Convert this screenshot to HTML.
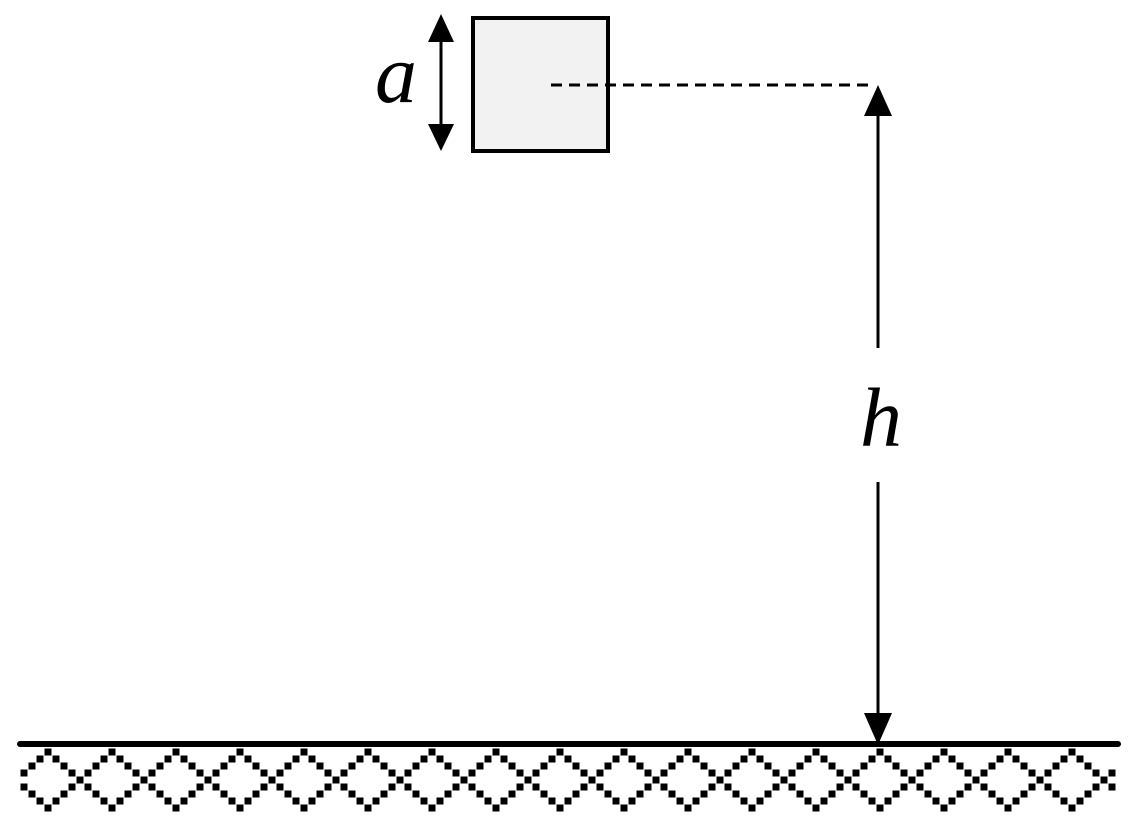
<!DOCTYPE html>
<html><head><style>body{margin:0;background:#fff}svg{display:block}text{font-family:"Liberation Serif","Times New Roman",serif;font-style:italic}</style></head><body>
<svg id="s" width="1135" height="826" xmlns="http://www.w3.org/2000/svg">
<rect x="473" y="18" width="135" height="133" fill="#f2f2f2" stroke="#000" stroke-width="4"/>
<line x1="441" y1="38" x2="441" y2="128" stroke="#000" stroke-width="3"/>
<polygon points="441,14 428,42 454,42" fill="#000"/>
<polygon points="441,151 428,124 454,124" fill="#000"/>
<text x="375" y="102" font-size="84">a</text>
<line x1="551" y1="85" x2="870" y2="85" stroke="#000" stroke-width="3" stroke-dasharray="11,7"/>
<polygon points="878,85 864,116 892,116" fill="#000"/>
<line x1="878" y1="110" x2="878" y2="348" stroke="#000" stroke-width="3"/>
<line x1="878" y1="482" x2="878" y2="718" stroke="#000" stroke-width="3"/>
<polygon points="878,745 864,713 892,713" fill="#000"/>
<text x="860" y="446" font-size="84">h</text>
<line x1="20" y1="744" x2="1118" y2="744" stroke="#000" stroke-width="6" stroke-linecap="round"/>
<g id="g"></g>
</svg>
<script>
var g=document.getElementById('g'),h='';
for(var cx=48;cx<1150;cx+=64){
 for(var i=0;i<=4;i++){
  var dx=i*8, dy=i*7;
  var pts=[[cx-dx,752+dy],[cx+dx,752+dy],[cx-dx,808-dy],[cx+dx,808-dy]];
  pts.forEach(function(p){ if(p[0]>20&&p[0]<1116) h+='<rect x="'+(p[0]-3.5)+'" y="'+(p[1]-3.5)+'" width="7" height="7" fill="#000"/>';});
 }
}
g.innerHTML=h;
</script>
</body></html>
